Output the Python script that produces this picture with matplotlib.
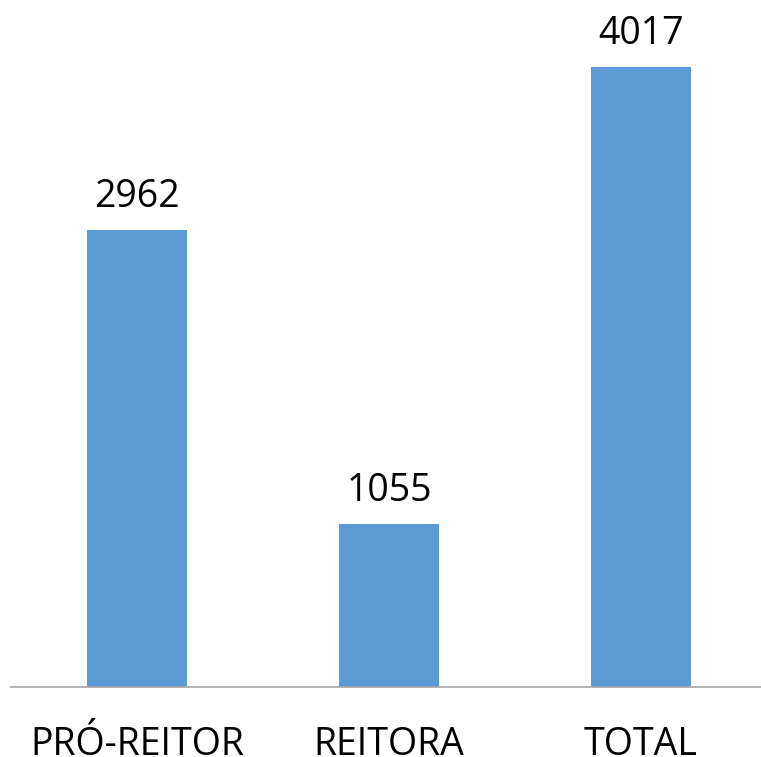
import matplotlib
matplotlib.use("Agg")
import matplotlib.pyplot as plt

categories = ["PRÓ-REITOR", "REITORA", "TOTAL"]
values = [2962, 1055, 4017]

W, H = 761, 757
fig = plt.figure(figsize=(W/100, H/100), dpi=100)
plt.rcParams['font.family'] = ['Open Sans', 'DejaVu Sans']

left_px, right_px = 11, 767
base_px = 687
ax = fig.add_axes([left_px/W, (H-base_px)/H, (right_px-left_px)/W, base_px/H])
ax.set_facecolor('none')
x = list(range(len(categories)))
ax.bar(x, values, width=0.397, color='#5B9BD5')
ax.set_xlim(-0.5, 2.5)
ax.set_ylim(0, 4017*687/620)
for s in ['top', 'right', 'left']:
    ax.spines[s].set_visible(False)
ax.spines['bottom'].set_color('#A6A6A6')
ax.spines['bottom'].set_linewidth(1.2)
ax.set_xticks([]); ax.set_yticks([])

for i, v in enumerate(values):
    ax.annotate(str(v), xy=(i, v), xytext=(0, 23), textcoords='offset pixels',
                ha='center', va='baseline', fontsize=27, color='black')
    ax.annotate(categories[i], xy=(i, 0), xycoords=('data', 'axes fraction'),
                xytext=(0, -68), textcoords='offset pixels',
                ha='center', va='baseline', fontsize=27, color='black',
                annotation_clip=False)

fig.savefig("out.png", dpi=100)
